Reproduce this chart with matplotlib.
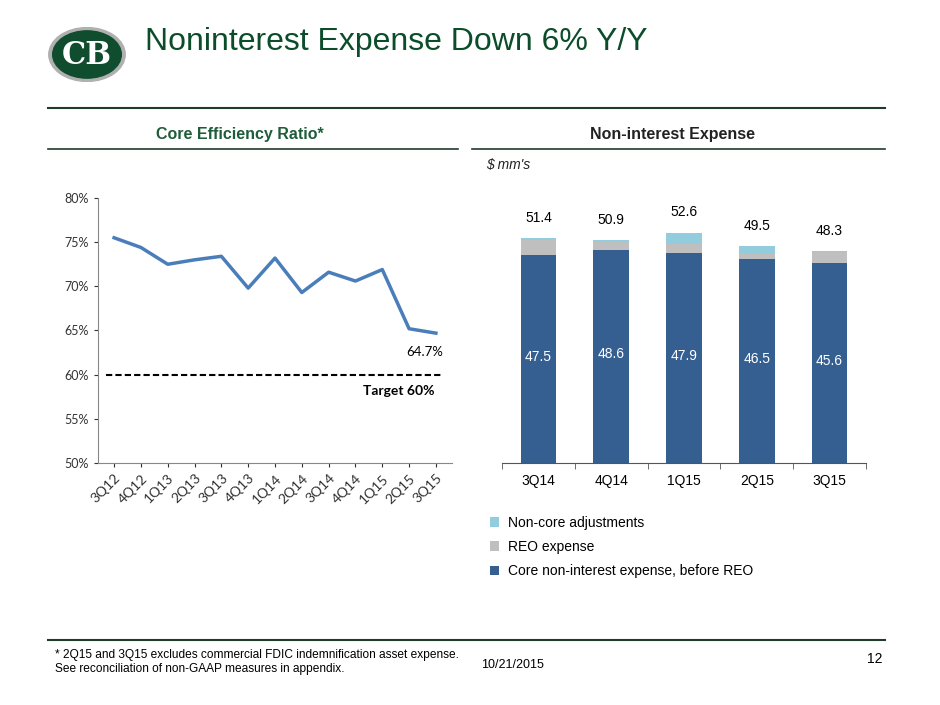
import matplotlib
matplotlib.use("Agg")
import matplotlib.pyplot as plt
from matplotlib.patches import Ellipse

plt.rcParams["font.family"] = ["Liberation Sans", "DejaVu Sans"]

quarters_line = ["3Q12","4Q12","1Q13","2Q13","3Q13","4Q13","1Q14","2Q14","3Q14","4Q14","1Q15","2Q15","3Q15"]
efficiency = [75.5,74.4,72.5,73.0,73.4,69.8,73.2,69.3,71.6,70.6,71.9,65.2,64.7]
target = 60.0

quarters_bar = ["3Q14","4Q14","1Q15","2Q15","3Q15"]
core = [47.5,48.6,47.9,46.5,45.6]
reo = [3.5,1.9,2.0,1.3,2.6]
noncore = [0.4,0.4,2.7,1.7,0.1]
totals = [51.4,50.9,52.6,49.5,48.3]

W, H = 940, 705
fig = plt.figure(figsize=(W/100, H/100), dpi=100)
green = "#1f5c3a"
cal = ["Lato", "DejaVu Sans"]

def fx(x): return x / W
def fy(y): return 1 - y / H

# logo
lax = fig.add_axes([fx(48), fy(82), fx(78), fy(27)-fy(82)])
lax.set_xlim(0, 1); lax.set_ylim(0, 1); lax.axis("off")
lax.add_patch(Ellipse((0.5, 0.5), 0.98, 0.98, color="#b0b0b0"))
lax.add_patch(Ellipse((0.5, 0.5), 0.88, 0.86, color="#0f4d2e"))
lax.text(0.5, 0.48, "CB", color="white", fontsize=22, ha="center", va="center",
         family="DejaVu Serif", fontweight="bold")

fig.text(fx(145), fy(42), "Noninterest Expense Down 6% Y/Y", fontsize=23, color="#0b4d2a",
         va="center", ha="left")
fig.add_artist(plt.Line2D([fx(48), fx(885)], [fy(108), fy(108)], color="#1f3b2a", lw=1.5))

# section headers
fig.text(fx(240), fy(135), "Core Efficiency Ratio*", fontsize=11.5, fontweight="bold", color=green, ha="center", va="center")
fig.add_artist(plt.Line2D([fx(48), fx(458)], [fy(149), fy(149)], color="#1f3b2a", lw=1.2))
fig.text(fx(673), fy(135), "Non-interest Expense", fontsize=11.5, fontweight="bold", color="#222222", ha="center", va="center")
fig.add_artist(plt.Line2D([fx(472), fx(885)], [fy(149), fy(149)], color="#1f3b2a", lw=1.2))
fig.text(fx(486), fy(165), "$ mm's", fontsize=10, style="italic", color="#222222", ha="left", va="center")

# line chart
ax1 = fig.add_axes([fx(98), fy(463), fx(452)-fx(98), fy(198)-fy(463)])
x = range(len(quarters_line))
ax1.plot(x, efficiency, color="#4a7ebb", lw=2.5)
ax1.plot([-0.3, len(quarters_line)-1+0.2], [target, target], color="black", lw=1.5, ls=(0, (3, 1.5)))
ax1.set_xlim(-0.6, len(quarters_line)-0.4)
ax1.set_ylim(50, 80)
yt = [50,55,60,65,70,75,80]
ax1.set_yticks(yt)
ax1.set_yticklabels([f"{v}%" for v in yt], fontsize=9, family=cal)
ax1.set_xticks(list(x))
ax1.set_xticklabels(quarters_line, rotation=45, ha="right", rotation_mode="anchor", fontsize=10, family=cal)
for s in ["top", "right"]:
    ax1.spines[s].set_visible(False)
ax1.spines["left"].set_color("#888888"); ax1.spines["bottom"].set_color("#888888")
ax1.tick_params(colors="#333333", length=3)
ax1.text(11.6, efficiency[-1]-1.4, f"{efficiency[-1]}%", fontsize=9.5, ha="center", va="top", family=cal)
ax1.text(10.6, target-1.2, "Target 60%", fontsize=10, fontweight="bold", ha="center", va="top", family=cal)

# bar chart
ax2 = fig.add_axes([fx(502), fy(463), fx(866)-fx(502), 265/H])
xb = range(len(quarters_bar))
bw = 0.49
ax2.bar(xb, core, bw, color="#355f91", label="Core non-interest expense, before REO")
b1 = [c for c in core]
ax2.bar(xb, reo, bw, bottom=b1, color="#bfbfbf", label="REO expense")
b2 = [c + r for c, r in zip(core, reo)]
ax2.bar(xb, noncore, bw, bottom=b2, color="#93cddd", label="Non-core adjustments")
ax2.set_xlim(-0.5, len(quarters_bar)-0.5)
ax2.set_ylim(0, 265/4.38)
for i in xb:
    ax2.text(i, core[i]/2 + 0.5, f"{core[i]:.1f}", color="white", ha="center", va="center", fontsize=10)
    ax2.text(i, b2[i] + noncore[i] + 3.0, f"{totals[i]:.1f}", ha="center", va="bottom", fontsize=10)
ax2.set_xticks([i-0.5 for i in range(len(quarters_bar)+1)], minor=True)
ax2.set_xticks(list(xb))
ax2.set_xticklabels(quarters_bar, fontsize=10)
ax2.tick_params(axis="x", which="major", length=0, pad=8)
ax2.tick_params(axis="x", which="minor", length=4, color="#555555")
ax2.set_yticks([])
for s in ["top", "right", "left"]:
    ax2.spines[s].set_visible(False)
ax2.spines["bottom"].set_color("#555555")
handles, labels = ax2.get_legend_handles_labels()
fig.legend(handles[::-1], labels[::-1], loc="upper left", bbox_to_anchor=(fx(477), fy(503)),
           frameon=False, fontsize=10, handlelength=0.7, handleheight=0.7, labelspacing=0.75,
           handletextpad=0.6)

# footer
fig.add_artist(plt.Line2D([fx(48), fx(885)], [fy(640), fy(640)], color="#1f3b2a", lw=1.5))
fig.text(fx(55), fy(662), "* 2Q15 and 3Q15 excludes commercial FDIC indemnification asset expense.\nSee reconciliation of non-GAAP measures in appendix.",
         fontsize=8.6, ha="left", va="center", linespacing=1.3)
fig.text(fx(512), fy(665), "10/21/2015", fontsize=9, ha="center", va="center")
fig.text(fx(883), fy(659), "12", fontsize=10, ha="right", va="center")

fig.savefig("out.png", dpi=100)
